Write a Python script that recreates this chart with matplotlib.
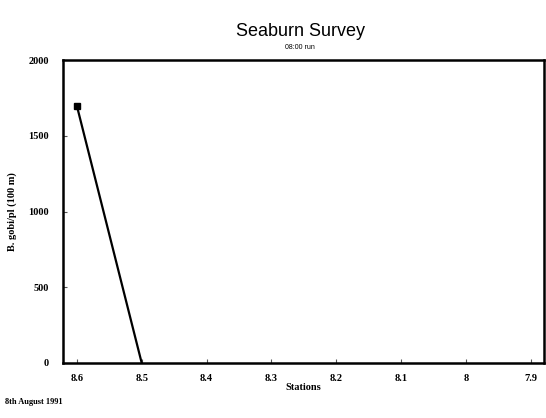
import matplotlib
matplotlib.use("Agg")
import matplotlib.pyplot as plt
import numpy as np

stations = ["8.6", "8.5", "8.4", "8.3", "8.2", "8.1", "8", "7.9"]
gobi_values = [1700, 0, np.nan, np.nan, np.nan, np.nan, np.nan, np.nan]
y_ticks = [0, 500, 1000, 1500, 2000]

fig = plt.figure(figsize=(5.46, 4.18), dpi=100)
ax = fig.add_axes([0.115, 0.132, 0.881, 0.724])

x = np.arange(len(stations))
ax.plot(x, gobi_values, color="black", linewidth=1.6, marker="s", markersize=4,
        markevery=[0])

ax.set_xlim(-0.216, 7.2)
ax.set_ylim(0, 2000)
ax.set_xticks(x)
ax.set_xticklabels(stations)
ax.set_yticks(y_ticks)
ax.set_yticklabels([str(v) for v in y_ticks])

tick_font = dict(family="Liberation Serif", weight="bold", size=7.5)
for lab in ax.get_xticklabels() + ax.get_yticklabels():
    lab.set_fontfamily("Liberation Serif")
    lab.set_fontweight("bold")
    lab.set_fontsize(7.5)

ax.tick_params(axis="both", direction="in", length=3, width=0.8, color="#555555", pad=8)
ax.tick_params(axis="y", pad=10)
for s in ax.spines.values():
    s.set_linewidth(1.8)
    s.set_color("black")

ax.set_xlabel("Stations", fontdict=tick_font, labelpad=0)
ax.set_ylabel("B. gobi/pl (100 m)", fontdict=tick_font)
ax.yaxis.set_label_coords(-0.095, 0.5)

fig.text(0.55, 0.925, "Seaburn Survey", ha="center", va="center",
         fontsize=13, family="Liberation Sans")
fig.text(0.55, 0.887, "08:00 run", ha="center", va="center",
         fontsize=5, family="Liberation Sans")
fig.text(0.01, 0.038, "8th August 1991", ha="left", va="center",
         fontdict=dict(family="Liberation Serif", weight="bold", size=6))

fig.savefig("out.png", dpi=100, facecolor="white")
